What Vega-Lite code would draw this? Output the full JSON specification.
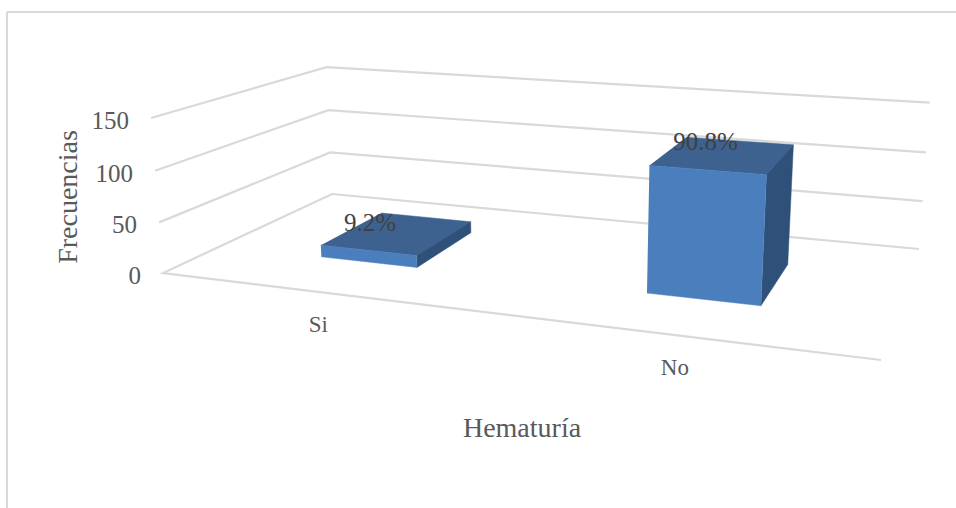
{
  "$schema": "https://vega.github.io/schema/vega-lite/v6.json",
  "width": 956,
  "height": 508,
  "padding": 0,
  "autosize": {"type": "none"},
  "background": "white",
  "config": {"view": {"stroke": null}},
  "datasets": {
    "hematuria": [
      {"Hematuria": "Si", "Frecuencia": 12, "Porcentaje": "9.2%"},
      {"Hematuria": "No", "Frecuencia": 119, "Porcentaje": "90.8%"}
    ],
    "niveles": [
      {"Nivel": 0},
      {"Nivel": 50},
      {"Nivel": 100},
      {"Nivel": 150}
    ]
  },
  "layer": [
    {
      "data": {"values": [{"borde": "izquierdo"}]},
      "mark": {"type": "rule", "color": "#d9d9d9", "strokeWidth": 2},
      "encoding": {"x": {"value": 7}, "y": {"value": 12}, "y2": {"value": 508}}
    },
    {
      "data": {"values": [{"borde": "superior"}]},
      "mark": {"type": "rule", "color": "#d9d9d9", "strokeWidth": 2},
      "encoding": {"x": {"value": 7}, "x2": {"value": 956}, "y": {"value": 12}}
    },
    {
      "data": {"name": "niveles"},
      "transform": [
        {"calculate": "[-1,0,1,2]", "as": "i"},
        {"flatten": ["i"]},
        {"filter": "datum.i >= 0 || datum.Nivel == 0"},
        {"calculate": "datum.i == -1 || datum.i == 2 ? 1 : 0", "as": "u"},
        {"calculate": "datum.i >= 1 ? 1 : 0", "as": "d"},
        {"calculate": "datum.Nivel", "as": "v"},
        {"calculate": "1 - 0.17219*datum.u + 0.23432*datum.d - 0.0002*datum.v", "as": "w"},
        {"calculate": "(566.3*datum.u + 246.79*datum.d - 0.1102*datum.v + 163)/datum.w", "as": "px"},
        {"calculate": "(25.01*datum.u - 33.54*datum.d - 1.05693*datum.v + 273)/datum.w", "as": "py"}
      ],
      "mark": {"type": "line", "color": "#d9d9d9", "strokeWidth": 2.2},
      "encoding": {
        "x": {"field": "px", "type": "quantitative", "scale": null, "axis": null},
        "y": {"field": "py", "type": "quantitative", "scale": null, "axis": null},
        "detail": {"field": "Nivel"},
        "order": {"field": "i"}
      }
    },
    {
      "data": {"name": "niveles"},
      "transform": [
        {"calculate": "1 - 0.0002*datum.Nivel", "as": "w"},
        {"calculate": "(163 - 0.1102*datum.Nivel)/datum.w", "as": "px"},
        {"calculate": "(273 - 1.05693*datum.Nivel)/datum.w", "as": "py"}
      ],
      "mark": {"type": "text", "font": "Liberation Serif", "fontSize": 25, "color": "#595959", "align": "right", "baseline": "middle", "dx": -22, "dy": 3},
      "encoding": {
        "x": {"field": "px", "type": "quantitative", "scale": null, "axis": null},
        "y": {"field": "py", "type": "quantitative", "scale": null, "axis": null},
        "text": {"field": "Nivel", "type": "nominal"}
      }
    },
    {
      "data": {"name": "hematuria"},
      "transform": [
        {"calculate": "[0,1,2,3]", "as": "i"},
        {"flatten": ["i"]},
        {"calculate": "indexof(['Si','No'], datum.Hematuria)*0.5 + 0.25 + (datum.i == 1 || datum.i == 2 ? 0.078 : -0.078)", "as": "u"},
        {"calculate": "datum.i >= 2 ? 0.7 : 0.3", "as": "d"},
        {"calculate": "datum.Frecuencia", "as": "v"},
        {"calculate": "1 - 0.17219*datum.u + 0.23432*datum.d - 0.0002*datum.v", "as": "w"},
        {"calculate": "(566.3*datum.u + 246.79*datum.d - 0.1102*datum.v + 163)/datum.w", "as": "px"},
        {"calculate": "(25.01*datum.u - 33.54*datum.d - 1.05693*datum.v + 273)/datum.w", "as": "py"}
      ],
      "mark": {"type": "line", "fill": "#3d628f", "stroke": "#3d628f", "strokeWidth": 0.5},
      "encoding": {
        "x": {"field": "px", "type": "quantitative", "scale": null, "axis": null},
        "y": {"field": "py", "type": "quantitative", "scale": null, "axis": null},
        "detail": {"field": "Hematuria"},
        "order": {"field": "i"}
      }
    },
    {
      "data": {"name": "hematuria"},
      "transform": [
        {"calculate": "[0,1,2,3]", "as": "i"},
        {"flatten": ["i"]},
        {"calculate": "indexof(['Si','No'], datum.Hematuria)*0.5 + 0.25 + 0.078", "as": "u"},
        {"calculate": "datum.i == 1 || datum.i == 2 ? 0.7 : 0.3", "as": "d"},
        {"calculate": "datum.i >= 2 ? datum.Frecuencia : 0", "as": "v"},
        {"calculate": "1 - 0.17219*datum.u + 0.23432*datum.d - 0.0002*datum.v", "as": "w"},
        {"calculate": "(566.3*datum.u + 246.79*datum.d - 0.1102*datum.v + 163)/datum.w", "as": "px"},
        {"calculate": "(25.01*datum.u - 33.54*datum.d - 1.05693*datum.v + 273)/datum.w", "as": "py"}
      ],
      "mark": {"type": "line", "fill": "#2f5079", "stroke": "#2f5079", "strokeWidth": 0.5},
      "encoding": {
        "x": {"field": "px", "type": "quantitative", "scale": null, "axis": null},
        "y": {"field": "py", "type": "quantitative", "scale": null, "axis": null},
        "detail": {"field": "Hematuria"},
        "order": {"field": "i"}
      }
    },
    {
      "data": {"name": "hematuria"},
      "transform": [
        {"calculate": "[0,1,2,3]", "as": "i"},
        {"flatten": ["i"]},
        {"calculate": "indexof(['Si','No'], datum.Hematuria)*0.5 + 0.25 + (datum.i == 1 || datum.i == 2 ? 0.078 : -0.078)", "as": "u"},
        {"calculate": "0.3", "as": "d"},
        {"calculate": "datum.i >= 2 ? datum.Frecuencia : 0", "as": "v"},
        {"calculate": "1 - 0.17219*datum.u + 0.23432*datum.d - 0.0002*datum.v", "as": "w"},
        {"calculate": "(566.3*datum.u + 246.79*datum.d - 0.1102*datum.v + 163)/datum.w", "as": "px"},
        {"calculate": "(25.01*datum.u - 33.54*datum.d - 1.05693*datum.v + 273)/datum.w", "as": "py"}
      ],
      "mark": {"type": "line", "fill": "#4b7ebc", "stroke": "#4b7ebc", "strokeWidth": 0.5},
      "encoding": {
        "x": {"field": "px", "type": "quantitative", "scale": null, "axis": null},
        "y": {"field": "py", "type": "quantitative", "scale": null, "axis": null},
        "detail": {"field": "Hematuria"},
        "order": {"field": "i"}
      }
    },
    {
      "data": {"name": "hematuria"},
      "transform": [
        {"calculate": "indexof(['Si','No'], datum.Hematuria)*0.5 + 0.25 + (datum.Hematuria == 'Si' ? -0.07 : -0.045)", "as": "u"},
        {"calculate": "datum.Hematuria == 'Si' ? 0.58 : 0.65", "as": "d"},
        {"calculate": "1 - 0.17219*datum.u + 0.23432*datum.d - 0.0002*datum.Frecuencia", "as": "w"},
        {"calculate": "(566.3*datum.u + 246.79*datum.d - 0.1102*datum.Frecuencia + 163)/datum.w", "as": "px"},
        {"calculate": "(25.01*datum.u - 33.54*datum.d - 1.05693*datum.Frecuencia + 273)/datum.w", "as": "py"}
      ],
      "mark": {"type": "text", "font": "Liberation Serif", "fontSize": 25, "color": "#404040", "align": "center", "baseline": "middle", "dx": 1},
      "encoding": {
        "x": {"field": "px", "type": "quantitative", "scale": null, "axis": null},
        "y": {"field": "py", "type": "quantitative", "scale": null, "axis": null},
        "text": {"field": "Porcentaje", "type": "nominal"}
      }
    },
    {
      "data": {"name": "hematuria"},
      "transform": [
        {"calculate": "indexof(['Si','No'], datum.Hematuria)*0.5 + 0.25", "as": "u"},
        {"calculate": "1 - 0.17219*datum.u", "as": "w"},
        {"calculate": "(566.3*datum.u + 163)/datum.w", "as": "px"},
        {"calculate": "(25.01*datum.u + 273)/datum.w", "as": "py"}
      ],
      "mark": {"type": "text", "font": "Liberation Serif", "fontSize": 23, "color": "#595959", "align": "center", "baseline": "middle", "dy": 33},
      "encoding": {
        "x": {"field": "px", "type": "quantitative", "scale": null, "axis": null},
        "y": {"field": "py", "type": "quantitative", "scale": null, "axis": null},
        "text": {"field": "Hematuria", "type": "nominal"}
      }
    },
    {
      "data": {"values": [{"titulo": "Hematuría"}]},
      "mark": {"type": "text", "font": "Liberation Serif", "fontSize": 28, "color": "#595959", "align": "center", "baseline": "middle"},
      "encoding": {"x": {"value": 522}, "y": {"value": 429}, "text": {"field": "titulo", "type": "nominal"}}
    },
    {
      "data": {"values": [{"titulo": "Frecuencias"}]},
      "mark": {"type": "text", "font": "Liberation Serif", "fontSize": 28, "color": "#595959", "align": "center", "baseline": "middle", "angle": 270},
      "encoding": {"x": {"value": 69}, "y": {"value": 197}, "text": {"field": "titulo", "type": "nominal"}}
    }
  ]
}
